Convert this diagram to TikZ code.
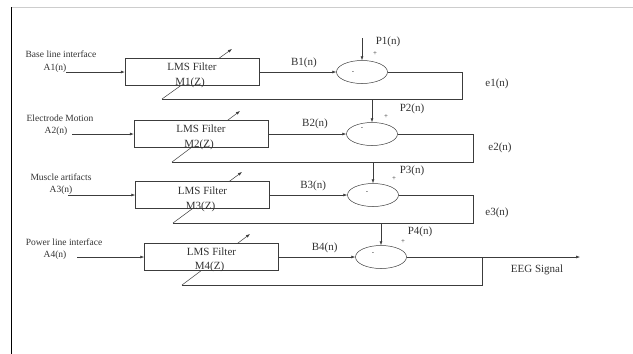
\documentclass[tikz,border=0pt]{standalone}
\usepackage{fontspec}
\setmainfont{Liberation Serif}
\usetikzlibrary{arrows.meta,shapes.geometric}
\definecolor{LineGray}{RGB}{60,60,60}
\definecolor{FrameGray}{RGB}{205,205,205}

\begin{document}
\begin{tikzpicture}[x=1pt,y=-1pt,>={Latex[length=4pt,width=3pt]},line width=0.5pt,draw=LineGray,
  filterbox/.style={draw,fill=white,rectangle,minimum width=134pt,minimum height=27pt,inner sep=0pt},
  sumnode/.style={draw,ellipse,minimum width=51pt,minimum height=23pt,inner sep=0pt},
  sig/.style={font=\fontsize{11}{12}\selectfont,text=black!80,inner sep=0pt},
  src/.style={font=\fontsize{9.5}{10}\selectfont,text=black!80,inner sep=0pt},
  sgn/.style={font=\fontsize{7}{8}\selectfont,text=black!80,inner sep=0pt}]
  \useasboundingbox (0,0) rectangle (633,354);
  % page frame
  \draw[FrameGray] (11,7) -- (633,7);
  \draw[black,line width=1pt] (11,7) -- (11,354);

  % adaptation arrows (behind the blocks)
  \coordinate (fb1) at (162,99);
  \coordinate (fb2) at (172,162);
  \coordinate (fb3) at (173,223);
  \coordinate (fb4) at (182,285);
  \coordinate (t1) at (232,49);
  \coordinate (t2) at (240,111);
  \coordinate (t3) at (242,172);
  \coordinate (t4) at (250,234);
  \draw[->] (fb1) -- (t1);
  \draw[->] (fb2) -- (t2);
  \draw[->] (fb3) -- (t3);
  \draw[->] (fb4) -- (t4);

  % filter blocks
  \node[filterbox] (box1) at (192,72) {};
  \node[filterbox] (box2) at (201,134) {};
  \node[filterbox] (box3) at (202.5,195) {};
  \node[filterbox] (box4) at (211.5,257) {};
  \node[sig] (lms1) at (192,67) {LMS Filter};
  \node[sig] (lms2) at (201,129) {LMS Filter};
  \node[sig] (lms3) at (202.5,191) {LMS Filter};
  \node[sig] (lms4) at (211.5,252) {LMS Filter};
  \node[sig] (m1) at (190,83) {M1(Z)};
  \node[sig] (m2) at (199,145) {M2(Z)};
  \node[sig] (m3) at (200.5,207) {M3(Z)};
  \node[sig] (m4) at (209.5,267) {M4(Z)};

  % noise sources
  \node[src] (n1) at (61,54) {Base line interface};
  \node[src] (a1) at (55,68) {A1(n)};
  \node[src] (n2) at (60,118) {Electrode Motion};
  \node[src] (a2) at (56,131) {A2(n)};
  \node[src] (n3) at (61,177) {Muscle artifacts};
  \node[src] (a3) at (61,190) {A3(n)};
  \node[src] (n4) at (64,242) {Power line interface};
  \node[src] (a4) at (55,255) {A4(n)};
  \coordinate (in1) at (66,72);
  \coordinate (in2) at (72,134);
  \coordinate (in3) at (68,195);
  \coordinate (in4) at (77,257);
  \draw[->] (in1) -- (box1.west);
  \draw[->] (in2) -- (box2.west);
  \draw[->] (in3) -- (box3.west);
  \draw[->] (in4) -- (box4.west);

  % summing junctions
  \node[sumnode] (c1) at (362,72) {};
  \node[sumnode] (c2) at (372,134) {};
  \node[sumnode] (c3) at (373,195) {};
  \node[sumnode] (c4) at (381,257) {};
  \node[sgn] at (353,73) {-};
  \node[sgn] at (362,129) {-};
  \node[sgn] at (367,193) {-};
  \node[sgn] at (373,254) {-};
  \node[sgn] at (375,54) {+};
  \node[sgn] at (386,117) {+};
  \node[sgn] at (394,179) {+};
  \node[sgn] at (403,242) {+};

  \draw[->] (box1.east) -- (c1.west) node[sig,pos=0.58,above=4pt] (b1) {B1(n)};
  \draw[->] (box2.east) -- (c2.west) node[sig,pos=0.6,above=5pt] (b2) {B2(n)};
  \draw[->] (box3.east) -- (c3.west) node[sig,pos=0.56,above=4pt] (b3) {B3(n)};
  \draw[->] (box4.east) -- (c4.west) node[sig,pos=0.6,above=4pt] (b4) {B4(n)};

  % primary inputs and error loops
  \coordinate (p1) at (362,38);
  \draw[->] (p1) -- (c1.north);
  \node[sig] (lp1) at (388,42) {P1(n)};
  \coordinate (r1) at (462,99);
  \coordinate (r2) at (473,162);
  \coordinate (r3) at (473,223);
  \coordinate (r4) at (482,285);
  \draw (c1.east) -| (r1) -- (fb1);
  \draw (c2.east) -| (r2) -- (fb2);
  \draw (c3.east) -| (r3) -- (fb3);
  \draw (c4.east -| r4) -- (r4) -- (fb4);
  \draw[->] (c2.north |- r1) -- (c2.north);
  \draw[->] (c3.north |- r2) -- (c3.north);
  \draw[->] (c4.north |- r3) -- (c4.north);
  \node[sig] (lp2) at (412,109) {P2(n)};
  \node[sig] (lp3) at (412,171) {P3(n)};
  \node[sig] (lp4) at (420,232) {P4(n)};
  \node[sig] (e1) at (497,84) {e1(n)};
  \node[sig] (e2) at (500,148) {e2(n)};
  \node[sig] (e3) at (497,213) {e3(n)};

  % output
  \coordinate (out) at (580,257);
  \draw[->] (c4.east) -- (out);
  \node[sig] (eeg) at (537,270) {EEG Signal};
\end{tikzpicture}
\end{document}
